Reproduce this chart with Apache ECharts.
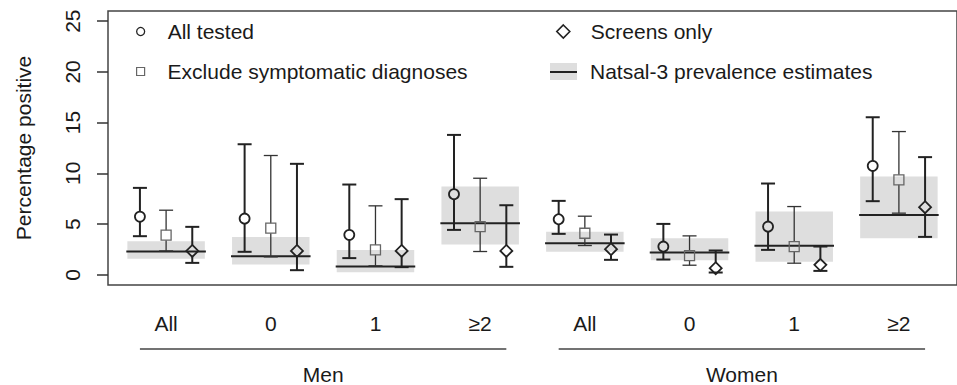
<!DOCTYPE html>
<html>
<head>
<meta charset="utf-8">
<script src="https://cdn.jsdelivr.net/npm/echarts@6/dist/echarts.min.js"></script>
<style>
  html, body { margin: 0; padding: 0; background: #fff; }
  #chart { width: 957px; height: 385px; }
</style>
</head>
<body>
<div id="chart"></div>
<script>
// categories
const groupLabels = ['All', '0', '1', '≥2', 'All', '0', '1', '≥2'];
const sexLabels = ['Men', 'Women'];
const yTicks = [0, 5, 10, 15, 20, 25];

// All tested
const allTested = [5.74, 5.55, 3.94, 7.95, 5.48, 2.79, 4.76, 10.74];
const allTestedLo = [3.81, 2.27, 1.65, 4.43, 4.04, 1.51, 2.46, 7.26];
const allTestedHi = [8.57, 12.87, 8.9, 13.79, 7.29, 5.02, 9.0, 15.53];

// Exclude symptomatic diagnoses
const excludeSympt = [3.91, 4.6, 2.46, 4.76, 4.1, 1.9, 2.79, 9.36];
const excludeSymptLo = [2.36, 1.77, 0.89, 2.3, 2.89, 0.95, 1.15, 6.08];
const excludeSymptHi = [6.37, 11.76, 6.8, 9.52, 5.78, 3.84, 6.73, 14.12];

// Screens only
const screensOnly = [2.36, 2.36, 2.36, 2.36, 2.53, 0.66, 0.99, 6.67];
const screensOnlyLo = [1.18, 0.46, 0.76, 0.79, 1.48, 0.23, 0.39, 3.74];
const screensOnlyHi = [4.73, 10.94, 7.46, 6.86, 3.97, 2.4, 2.79, 11.6];

// Natsal-3 prevalence estimates
const natsal = [2.30, 1.84, 0.82, 5.09, 3.12, 2.2, 2.86, 5.91];
const natsalLo = [1.58, 1.02, 0.26, 2.99, 2.27, 1.44, 1.28, 3.61];
const natsalHi = [3.32, 3.74, 2.46, 8.7, 4.24, 3.61, 6.24, 9.69];

const FONT = "'Liberation Sans', Arial, sans-serif";
const TXT = '#1a1a1a';
const DARK = '#222';
const GREY = '#666';

const chart = echarts.init(document.getElementById('chart'), null, { renderer: 'svg' });

const groupPos = groupLabels.map((_, i) => i);
const sexPos = [1.5, 5.5];

const pts = (vals, off) => vals.map((v, i) => [i + off, v]);
const bars = (lo, hi, est, off) => lo.map((l, i) => [i + off, l, hi[i], est[i]]);

// vertical CI with caps, leaving a gap around the point
function errorBar(color, width, gap) {
  return function (params, api) {
    const x = api.value(0);
    const lo = api.coord([x, api.value(1)]);
    const hi = api.coord([x, api.value(2)]);
    const mid = api.coord([x, api.value(3)]);
    const cap = 7;
    const style = { stroke: color, lineWidth: width, fill: null };
    const children = [
      { type: 'line', shape: { x1: hi[0] - cap, y1: hi[1], x2: hi[0] + cap, y2: hi[1] }, style },
      { type: 'line', shape: { x1: lo[0] - cap, y1: lo[1], x2: lo[0] + cap, y2: lo[1] }, style }
    ];
    if (mid[1] - gap > hi[1]) {
      children.push({ type: 'line', shape: { x1: mid[0], y1: hi[1], x2: mid[0], y2: mid[1] - gap }, style });
    }
    if (mid[1] + gap < lo[1]) {
      children.push({ type: 'line', shape: { x1: mid[0], y1: mid[1] + gap, x2: mid[0], y2: lo[1] }, style });
    }
    return { type: 'group', children };
  };
}

const legendText = (pad) => ({ fontSize: 21, color: TXT, fontFamily: FONT, padding: [0, 0, 0, pad] });

const option = {
  animation: false,
  textStyle: { fontFamily: FONT },
  grid: {
    left: 108, right: -8, top: 11, bottom: 100,
    show: true, borderColor: '#444', borderWidth: 1.5, backgroundColor: 'transparent'
  },
  legend: [
    {
      data: [{ name: 'All tested', icon: 'circle', itemStyle: { color: 'rgba(0,0,0,0)', borderColor: DARK, borderWidth: 1.3 } }],
      left: 136, top: 21, itemWidth: 8, itemHeight: 8, padding: 0, selectedMode: false,
      textStyle: legendText(18)
    },
    {
      data: [{ name: 'Exclude symptomatic diagnoses', icon: 'rect', itemStyle: { color: 'rgba(0,0,0,0)', borderColor: GREY, borderWidth: 1.2 } }],
      left: 136, top: 61, itemWidth: 8, itemHeight: 8, padding: 0, selectedMode: false,
      textStyle: legendText(18)
    },
    {
      data: [{ name: 'Screens only', icon: 'diamond', itemStyle: { color: 'rgba(0,0,0,0)', borderColor: DARK, borderWidth: 1.6 } }],
      left: 556, top: 21, itemWidth: 13, itemHeight: 13, padding: 0, selectedMode: false,
      textStyle: legendText(16)
    },
    {
      data: [{ name: 'Natsal-3 prevalence estimates', icon: 'rect', itemStyle: { color: '#dedede', borderWidth: 0 } }],
      left: 550, top: 61, itemWidth: 27, itemHeight: 17, symbolKeepAspect: false, padding: 0, selectedMode: false,
      textStyle: legendText(8)
    }
  ],
  graphic: [
    { type: 'line', shape: { x1: 550, y1: 72, x2: 577, y2: 72 }, style: { stroke: DARK, lineWidth: 2 }, z: 100 }
  ],
  xAxis: [
    {
      type: 'value', min: -0.555, max: 7.555,
      axisLine: { show: false, onZero: false }, axisTick: { show: false }, splitLine: { show: false },
      axisLabel: {
        customValues: groupPos, formatter: (v) => groupLabels[Math.round(v)],
        margin: 28, fontSize: 21, color: TXT, fontFamily: FONT
      }
    },
    {
      type: 'value', min: -0.555, max: 7.555, position: 'bottom',
      axisLine: { show: false, onZero: false }, axisTick: { show: false }, splitLine: { show: false },
      axisLabel: {
        customValues: sexPos, formatter: (v) => sexLabels[v < 3.5 ? 0 : 1],
        margin: 79, fontSize: 21, color: TXT, fontFamily: FONT
      }
    }
  ],
  yAxis: {
    type: 'value', min: -1, max: 26,
    name: 'Percentage positive', nameLocation: 'middle', nameGap: 74, nameRotate: 90,
    nameTextStyle: { fontSize: 21, color: TXT, fontFamily: FONT },
    axisLine: { show: false, onZero: false }, splitLine: { show: false },
    axisTick: { show: true, customValues: yTicks, length: 11, lineStyle: { color: '#333', width: 1.5 } },
    axisLabel: { customValues: yTicks, rotate: 90, margin: 25, fontSize: 21, color: TXT, fontFamily: FONT }
  },
  series: [
    {
      name: 'Natsal-3 prevalence estimates', type: 'custom', z: 1,
      encode: { x: 0, y: [1, 2] },
      data: natsal.map((v, i) => [i, natsalLo[i], natsalHi[i], v]),
      renderItem: function (params, api) {
        const x = api.value(0);
        const tl = api.coord([x - 0.37, api.value(2)]);
        const br = api.coord([x + 0.37, api.value(1)]);
        const l = api.coord([x - 0.38, api.value(3)]);
        const r = api.coord([x + 0.38, api.value(3)]);
        return {
          type: 'group',
          children: [
            { type: 'rect', shape: { x: tl[0], y: tl[1], width: br[0] - tl[0], height: br[1] - tl[1] }, style: { fill: '#dedede' } },
            { type: 'line', shape: { x1: l[0], y1: l[1], x2: r[0], y2: r[1] }, style: { stroke: DARK, lineWidth: 2 } }
          ]
        };
      }
    },
    {
      name: 'All tested CI', type: 'custom', z: 2, encode: { x: 0, y: [1, 2] },
      data: bars(allTestedLo, allTestedHi, allTested, -0.25), renderItem: errorBar(DARK, 2, 5)
    },
    {
      name: 'Exclude CI', type: 'custom', z: 2, encode: { x: 0, y: [1, 2] },
      data: bars(excludeSymptLo, excludeSymptHi, excludeSympt, 0), renderItem: errorBar('#333', 1.3, 5)
    },
    {
      name: 'Screens CI', type: 'custom', z: 2, encode: { x: 0, y: [1, 2] },
      data: bars(screensOnlyLo, screensOnlyHi, screensOnly, 0.25), renderItem: errorBar(DARK, 2, 6)
    },
    {
      name: 'All tested', type: 'scatter', z: 3, symbol: 'circle', symbolSize: 10,
      itemStyle: { color: 'rgba(0,0,0,0)', borderColor: DARK, borderWidth: 1.8, opacity: 1 },
      data: pts(allTested, -0.25)
    },
    {
      name: 'Exclude symptomatic diagnoses', type: 'scatter', z: 3, symbol: 'rect', symbolSize: 10,
      itemStyle: { color: 'rgba(0,0,0,0)', borderColor: GREY, borderWidth: 1.3, opacity: 1 },
      data: pts(excludeSympt, 0)
    },
    {
      name: 'Screens only', type: 'scatter', z: 3, symbol: 'diamond', symbolSize: 12,
      itemStyle: { color: 'rgba(0,0,0,0)', borderColor: DARK, borderWidth: 1.8, opacity: 1 },
      data: pts(screensOnly, 0.25)
    },
    {
      name: 'Group lines', type: 'custom', z: 1, clip: false, silent: true,
      encode: { x: [0, 1] },
      data: [[-0.25, 3.25], [3.75, 7.25]],
      renderItem: function (params, api) {
        const a = api.coord([api.value(0), -1]);
        const b = api.coord([api.value(1), -1]);
        return {
          type: 'line',
          shape: { x1: a[0], y1: a[1] + 64, x2: b[0], y2: b[1] + 64 },
          style: { stroke: '#444', lineWidth: 1.5 }
        };
      }
    }
  ]
};

chart.setOption(option);
</script>
</body>
</html>
